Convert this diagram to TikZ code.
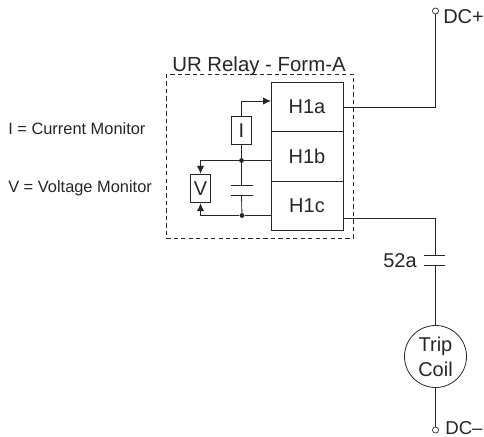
\documentclass[tikz,border=0pt]{standalone}
\usepackage{fontspec}
\setmainfont{Liberation Sans}
\usetikzlibrary{arrows.meta}
\tikzset{
  wire/.style={draw=black!85,line width=0.6pt},
  arrowwire/.style={wire,-{Latex[length=6pt,width=5.5pt]}},
  cell/.style={draw=black!85,line width=0.6pt,minimum width=54pt,minimum height=37pt,inner sep=0pt,font=\fontsize{15pt}{17pt}\selectfont,text=black!85},
  meter/.style={draw=black!85,line width=0.6pt,minimum width=15.5pt,minimum height=21.5pt,inner sep=0pt,font=\fontsize{15pt}{17pt}\selectfont,text=black!85},
  dotnode/.style={circle,fill=black!85,minimum size=3.6pt,inner sep=0pt},
  term/.style={circle,draw=black!85,fill=white,line width=0.5pt,minimum size=4.6pt,inner sep=0pt},
  lbl/.style={inner sep=0pt,font=\fontsize{15pt}{17pt}\selectfont,text=black!85},
  note/.style={inner sep=0pt,font=\fontsize{12.3pt}{14pt}\selectfont,text=black!85},
  coil/.style={circle,draw=black!85,line width=0.6pt,minimum size=46.5pt,inner sep=0pt,align=center,font=\fontsize{15pt}{18.7pt}\selectfont,text=black!85},
  plate/.style={draw=black!85,line width=0.6pt}
}
\begin{document}
\begin{tikzpicture}[x=0.75pt,y=-0.75pt]
\useasboundingbox (0,0) rectangle (484,436);
\draw[black!85,line width=0.6pt,dash pattern=on 3.2pt off 2.4pt] (166,74) rectangle (353.5,238);
\node[lbl,anchor=base,font=\fontsize{15.3pt}{17pt}\selectfont] (title) at (259,71.5) {UR Relay - Form-A};
\node[note,anchor=base west] (inote) at (8,134) {I = Current Monitor};
\node[note,anchor=base west] (vnote) at (8,192) {V = Voltage Monitor};

\node[cell] (h1a) at (307,107) {H1a};
\node[cell] (h1b) at (307,156.5) {H1b};
\node[cell] (h1c) at (307,206) {H1c};

\node[meter] (imeter) at (241.5,130.5) {I};
\node[meter] (vmeter) at (200.5,188.5) {V};
\node[dotnode] (d1) at (241.5,160.5) {};
\node[dotnode] (d2) at (242,215.5) {};
\coordinate (h1ain) at (271,101);
\coordinate (capta) at (241.5,185);
\coordinate (captb) at (241.5,195.5);

\draw[arrowwire] (imeter.north) |- (h1ain);
\draw[wire] (imeter.south) -- (d1);
\draw[wire] (d1) -- (h1b.west |- d1);
\draw[wire] (d2) -- (h1c.west |- d2);
\draw[arrowwire] (d1) -| (vmeter.north);
\draw[arrowwire] (d2) -| (vmeter.south);
\draw[wire] (d1) -- (capta);
\draw[wire] (captb) -- (d2);
\draw[plate] (231,185) -- (252.5,185);
\draw[plate] (231,195.5) -- (252.5,195.5);

\node[term] (dcp) at (435.5,11) {};
\node[term] (dcm) at (435.5,430) {};
\node[lbl,anchor=base west] (dcplabel) at (443,23) {DC+};
\node[lbl,anchor=base west,font=\fontsize{14pt}{17pt}\selectfont] (dcmlabel) at (445,434) {DC–};
\node[coil] (coilnode) at (435.5,356.5) {Trip\\Coil};
\node[lbl,anchor=base east] (lbl52) at (417,267) {52a};
\coordinate (capa) at (435.5,255);
\coordinate (capb) at (435.5,265);
\coordinate (h1aout) at (343.5,107);
\coordinate (h1cout) at (343.5,218);

\draw[wire] (h1aout) -| (dcp.south);
\draw[wire] (h1cout) -| (capa);
\draw[wire] (capb) -- (coilnode.north);
\draw[wire] (coilnode.south) -- (dcm.north);
\draw[plate] (424,255) -- (445,255);
\draw[plate] (424,265) -- (445,265);
\end{tikzpicture}
\end{document}
